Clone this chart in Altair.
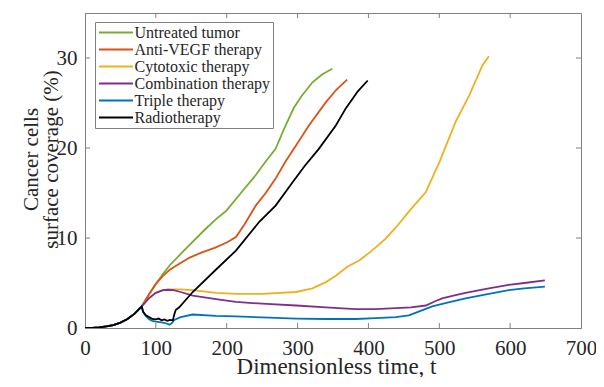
import altair as alt
import pandas as pd

series_names = ["Untreated tumor", "Anti-VEGF therapy", "Cytotoxic therapy",
                "Combination therapy", "Triple therapy", "Radiotherapy"]
series_colors = ["#77AC30", "#D95319", "#EDB120", "#7E2F8E", "#0072BD", "#000000"]

# shared early growth (before treatment)
t_early = [0, 10, 20, 30, 40, 50, 60, 70, 80]
y_early = [0.0, 0.02, 0.07, 0.17, 0.33, 0.6, 1.0, 1.6, 2.4]

t_untreated = [90, 100, 110, 120, 142, 170, 185, 199, 220, 241, 255, 269, 283, 295, 305, 321, 335, 349]
y_untreated = [3.7, 4.9, 6.0, 7.0, 8.8, 11.0, 12.1, 13.0, 15.0, 17.0, 18.5, 19.9, 22.5, 24.5, 25.7, 27.3, 28.2, 28.8]

t_antivegf = [90, 100, 110, 120, 147, 165, 183, 200, 213, 225, 241, 255, 269, 283, 298, 316, 340, 355, 370]
y_antivegf = [3.7, 4.9, 5.8, 6.5, 7.8, 8.4, 8.9, 9.5, 10.1, 11.5, 13.6, 15.0, 16.6, 18.5, 20.3, 22.5, 25.1, 26.5, 27.6]

t_cyto = [90, 100, 110, 120, 135, 152, 185, 213, 250, 298, 321, 340, 354, 370, 387, 405, 424, 439, 460, 481, 500, 523, 542, 561, 570]
y_cyto = [3.3, 3.9, 4.2, 4.3, 4.3, 4.2, 3.9, 3.8, 3.8, 4.0, 4.4, 5.1, 5.8, 6.8, 7.5, 8.6, 9.9, 11.2, 13.2, 15.1, 18.4, 22.9, 25.8, 29.2, 30.2]

t_combo = [90, 100, 110, 117, 125, 135, 152, 185, 213, 250, 298, 340, 382, 410, 439, 460, 481, 495, 504, 520, 537, 570, 598, 620, 649]
y_combo = [3.3, 3.9, 4.2, 4.25, 4.2, 4.0, 3.6, 3.2, 2.9, 2.7, 2.5, 2.3, 2.1, 2.1, 2.2, 2.3, 2.5, 3.0, 3.3, 3.6, 3.9, 4.4, 4.8, 5.0, 5.3]

t_triple = [82, 86, 90, 95, 100, 105, 110, 115, 119, 122, 126, 135, 152, 185, 213, 260, 298, 340, 382, 410, 439, 457, 470, 490, 510, 537, 570, 598, 620, 649]
y_triple = [1.8, 1.3, 1.0, 0.8, 0.7, 0.65, 0.6, 0.5, 0.37, 0.5, 0.9, 1.2, 1.5, 1.35, 1.3, 1.15, 1.05, 1.0, 1.0, 1.1, 1.2, 1.4, 1.8, 2.4, 2.8, 3.3, 3.8, 4.2, 4.4, 4.6]

t_radio = [82, 86, 91, 95, 100, 104, 108, 112, 116, 120, 124, 126, 128, 133, 152, 185, 213, 246, 269, 293, 310, 330, 354, 368, 385, 399]
y_radio = [1.8, 1.4, 1.2, 1.0, 0.96, 1.05, 0.85, 0.95, 0.8, 0.9, 0.85, 1.5, 2.0, 2.3, 4.0, 6.5, 8.6, 11.8, 13.6, 16.2, 18.0, 19.9, 22.5, 24.4, 26.3, 27.5]

x_ticks = [100, 200, 300, 400, 500, 600]
y_ticks = [10, 20, 30]

series_t = [t_untreated, t_antivegf, t_cyto, t_combo, t_triple, t_radio]
series_y = [y_untreated, y_antivegf, y_cyto, y_combo, y_triple, y_radio]

rows = []
for name, ts, ys in zip(series_names, series_t, series_y):
    for t, y in zip(t_early + ts, y_early + ys):
        rows.append({"series": name, "t": t, "y": y})
df = pd.DataFrame(rows)

FONT = "Liberation Serif"
AXC = "#808080"
TXT = "#262626"
W, H = 496, 315

xs = alt.Scale(domain=[0, 700], nice=False)
ys_ = alt.Scale(domain=[0, 35], nice=False)
color = alt.Color(
    "series:N",
    scale=alt.Scale(domain=series_names, range=series_colors),
    legend=alt.Legend(
        orient="none", legendX=10, legendY=9, title=None,
        symbolType="M-2.27,0H2.27", symbolStrokeWidth=2, symbolSize=225,
        symbolOffset=10.5, labelOffset=10,
        labelFont=FONT, labelFontSize=16, labelColor=TXT, labelLimit=0,
        strokeColor=AXC, fillColor="white", padding=2, rowPadding=0,
    ),
)

x_axis = alt.Axis(values=[0] + x_ticks + [700], title="Dimensionless time, t",
                  grid=False, ticks=False, labelFlush=False, labelOverlap=False,
                  labelPadding=9, labelFont=FONT, labelFontSize=21, labelColor=TXT,
                  titleFont=FONT, titleFontSize=23, titleFontWeight="normal", titleColor=TXT,
                  titleBaseline="alphabetic", titleY=45, titleX=251)
y_axis = alt.Axis(values=[0] + y_ticks, title=["Cancer cells", "surface coverage (%)"],
                  grid=False, ticks=False, labelFlush=False, labelOverlap=False,
                  labelPadding=8, labelFont=FONT, labelFontSize=21, labelColor=TXT,
                  titleFont=FONT, titleFontSize=21, titleFontWeight="normal", titleColor=TXT,
                  titleLineHeight=20, titleBaseline="middle", titleX=-54, titleY=146)

layers = []
for i, name in enumerate(series_names):
    layers.append(
        alt.Chart(df).transform_filter(alt.datum.series == name)
        .mark_line(strokeWidth=1.8, clip=True)
        .encode(
            x=alt.X("t:Q", scale=xs, axis=x_axis),
            y=alt.Y("y:Q", scale=ys_, axis=y_axis),
            color=color,
            order=alt.Order("t:Q"),
        )
    )

xt = pd.DataFrame({"v": x_ticks})
yt = pd.DataFrame({"v": y_ticks})
tick_style = dict(color=AXC, strokeWidth=1)
ticks = [
    alt.Chart(xt).mark_rule(**tick_style).encode(x=alt.X("v:Q", scale=xs), y=alt.value(H), y2=alt.value(H - 5)),
    alt.Chart(xt).mark_rule(**tick_style).encode(x=alt.X("v:Q", scale=xs), y=alt.value(0), y2=alt.value(5)),
    alt.Chart(yt).mark_rule(**tick_style).encode(y=alt.Y("v:Q", scale=ys_), x=alt.value(0), x2=alt.value(5)),
    alt.Chart(yt).mark_rule(**tick_style).encode(y=alt.Y("v:Q", scale=ys_), x=alt.value(W), x2=alt.value(W - 5)),
]

chart = alt.layer(*ticks, *layers).properties(
    width=W, height=H,
    padding={"left": 77, "top": 5, "right": 15, "bottom": 49},
    autosize=alt.AutoSizeParams(type="none"),
).configure_view(
    stroke=AXC, strokeWidth=1
).configure_axis(
    domainColor=AXC, domainWidth=1,
)

chart.save("out.html", embed_options={"renderer": "svg", "actions": False})
